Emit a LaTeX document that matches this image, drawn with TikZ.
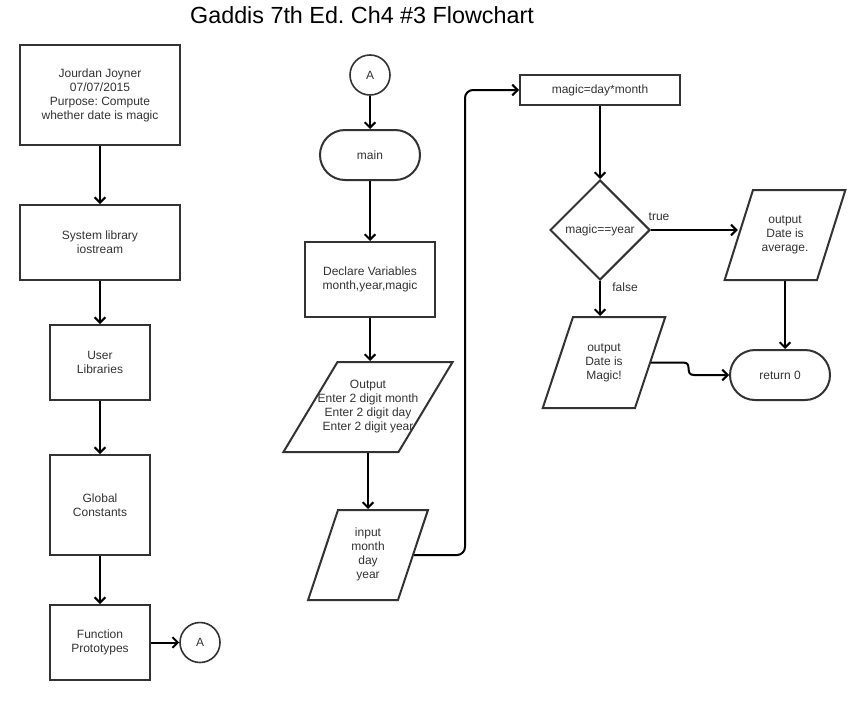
\documentclass[tikz,border=0pt]{standalone}
\usepackage{fontspec}
\setmainfont{Liberation Sans}
\usetikzlibrary{shapes.geometric,shapes.misc,arrows.meta,calc}
\definecolor{ink}{HTML}{333333}
\frenchspacing
\newcommand\iotext[3]{\parbox[c][#2][c]{#1}{\makebox[#1]{\begin{tabular}{@{}c@{}}#3\end{tabular}}}}
\begin{document}
\begin{tikzpicture}[x=0.75pt,y=-0.75pt,
  every node/.style={font=\fontsize{9}{10.5}\selectfont, text=ink, align=center},
  box/.style={draw=ink, line width=1.5pt, rectangle, inner sep=0pt},
  term/.style={draw=ink, line width=1.5pt, rounded rectangle, minimum width=75pt, minimum height=37.5pt, inner sep=0pt},
  conn/.style={draw=ink, line width=1.2pt, circle, minimum size=30pt, inner sep=0pt},
  io/.style={draw=ink, line width=1.5pt, trapezium, inner sep=0pt},
  dec/.style={draw=ink, line width=1.5pt, diamond, minimum width=75pt, minimum height=75pt, inner sep=0pt},
  arr/.style={draw=black, line width=1.5pt, -{Straight Barb[length=4pt,width=8pt]}},
  lbl/.style={inner sep=0pt}
]
\useasboundingbox (0,0) rectangle (856,700);
\fill[white] (0,0) rectangle (856,700);

\node[font=\fontsize{17.5}{20}\selectfont, text=black] (title) at (362,15) {Gaddis 7th Ed. Ch4 \#3 Flowchart};

% left column
\node[box, minimum width=120pt, minimum height=75pt] (b1) at (100,95) {Jourdan Joyner\\07/07/2015\\Purpose: Compute\\whether date is magic};
\node[box, minimum width=120pt, minimum height=56.25pt] (b2) at (100,242.5) {System library\\iostream};
\node[box, minimum width=75pt, minimum height=56.25pt] (b3) at (100,362.5) {User\\Libraries};
\node[box, minimum width=75pt, minimum height=75pt] (b4) at (100,505) {Global\\Constants};
\node[box, minimum width=75pt, minimum height=56.25pt] (b5) at (100,642.5) {Function\\Prototypes};
\node[conn] (a1) at (200,642.5) {A};

\draw[arr] (b1.south) -- (b2.north);
\draw[arr] (b2.south) -- (b3.north);
\draw[arr] (b3.south) -- (b4.north);
\draw[arr] (b4.south) -- (b5.north);
\draw[arr] (b5.east) -- (a1.west);

% middle column
\node[conn] (a2) at (370,75) {A};
\node[term] (main) at (370,155) {main};
\node[box, minimum width=97.5pt, minimum height=56.25pt] (decl) at (370,279.5) {Declare Variables\\month,year,magic};
\node[io, trapezium left angle=59, trapezium right angle=121] (out) at (368,407)
  {\iotext{45.75pt}{67.5pt}{Output\\Enter 2 digit month\\Enter 2 digit day\\Enter 2 digit year}};
\node[io, trapezium left angle=71.6, trapezium right angle=108.4] (inp) at (368,555)
  {\iotext{45pt}{67.5pt}{input\\month\\day\\year}};

\draw[arr] (a2.south) -- (main.north);
\draw[arr] (main.south) -- (decl.north);
\draw[arr] (decl.south) -- (decl.south |- out.north);
\draw[arr] (out.south) -- (inp.north);

% right part
\node[box, minimum width=120pt, minimum height=22.5pt] (mdm) at (600,90) {magic=day*month};
\node[dec] (dia) at (600,230) {magic==year};
\node[io, trapezium left angle=72.5, trapezium right angle=107.5] (avg) at (785,235)
  {\iotext{48pt}{67.5pt}{output\\Date is\\average.}};
\node[io, trapezium left angle=71.6, trapezium right angle=108.4] (mag) at (604,362.5)
  {\iotext{46.5pt}{68.25pt}{output\\Date is\\Magic!}};
\node[term] (ret) at (780,375) {return 0};
\node[lbl] (tl) at (659,217) {true};
\node[lbl] (fl) at (625,287) {false};

\coordinate (k) at (465,90);
\draw[arr, rounded corners=6pt] (inp.east) -| (k) -- (mdm.west);
\draw[arr] (mdm.south) -- (dia.north);
\draw[arr] (dia.east) -- (dia.east -| avg.west);
\draw[arr] (dia.south) -- (dia.south |- mag.north);
\draw[arr] (avg.south) -- (avg.south |- ret.north);
\draw[arr] (mag.east) -- ++(32,0) .. controls +(10,0) and +(-10,0) .. ($(ret.west)+(-35,0)$) -- (ret.west);
\end{tikzpicture}
\end{document}
